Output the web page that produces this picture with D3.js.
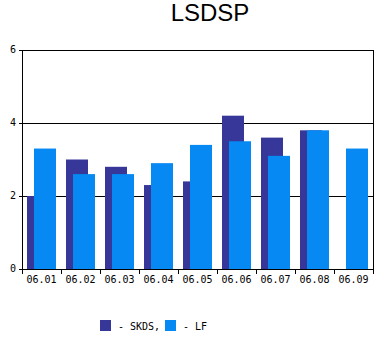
<!DOCTYPE html>
<html>
<head>
  <script src="https://d3js.org/d3.v7.min.js"></script>
  <style>
    body { margin: 0; background: #fff; }
  </style>
</head>
<body>
  <div id="chart"></div>
  <script>
    var categories = ["06.01", "06.02", "06.03", "06.04", "06.05", "06.06", "06.07", "06.08", "06.09"];
    var skds = [2.0, 3.0, 2.8, 2.3, 2.4, 4.2, 3.6, 3.8, 0];
    var lf = [3.3, 2.6, 2.6, 2.9, 3.4, 3.5, 3.1, 3.8, 3.3];
    var yTicks = [0, 2, 4, 6];

    var W = 388, H = 350;
    var margin = {top: 50, right: 15, bottom: 81, left: 22},
        width = W - margin.left - margin.right,
        height = H - margin.top - margin.bottom;

    var svg = d3.select("#chart")
      .append("svg")
      .attr("width", W)
      .attr("height", H);

    svg.append("text")
      .attr("x", 210)
      .attr("y", 21)
      .attr("text-anchor", "middle")
      .style("font-family", "Liberation Sans, Arial, sans-serif")
      .style("font-size", "24px")
      .text("LSDSP");

    var g = svg.append("g")
      .attr("transform", "translate(" + margin.left + "," + margin.top + ")");

    var x = d3.scaleBand()
      .domain(categories)
      .range([0, width]);

    var y = d3.scaleLinear()
      .domain([0, 6])
      .range([height, 0]);

    var bw = x.bandwidth();

    // grid lines
    g.selectAll(".grid")
      .data(yTicks.filter(function(d) { return d > 0; }))
      .enter()
      .append("line")
      .attr("x1", 0)
      .attr("x2", width)
      .attr("y1", function(d) { return Math.round(y(d)) + 0.5; })
      .attr("y2", function(d) { return Math.round(y(d)) + 0.5; })
      .attr("stroke", "#000");

    // dark bars
    g.selectAll(".skds")
      .data(skds)
      .enter()
      .append("rect")
      .attr("x", function(d, i) { return x(categories[i]) + bw * 5 / 39; })
      .attr("y", function(d) { return y(d); })
      .attr("width", bw * 22 / 39)
      .attr("height", function(d) { return height - y(d); })
      .attr("fill", "#37379a");

    // light bars
    g.selectAll(".lf")
      .data(lf)
      .enter()
      .append("rect")
      .attr("x", function(d, i) { return x(categories[i]) + bw * 12 / 39; })
      .attr("y", function(d) { return y(d); })
      .attr("width", bw * 22 / 39)
      .attr("height", function(d) { return height - y(d); })
      .attr("fill", "#0689f2");

    // right border
    g.append("line")
      .attr("x1", width + 0.5).attr("x2", width + 0.5)
      .attr("y1", 0).attr("y2", height + 5)
      .attr("stroke", "#000");

    // x axis with ticks at category boundaries
    var xa = g.append("g")
      .attr("transform", "translate(0," + height + ")");
    xa.append("line")
      .attr("x1", 0).attr("x2", width)
      .attr("y1", 0.5).attr("y2", 0.5)
      .attr("stroke", "#000");
    xa.selectAll(".xt")
      .data(categories)
      .enter()
      .append("line")
      .attr("x1", function(d) { return Math.round(x(d)) + 0.5; })
      .attr("x2", function(d) { return Math.round(x(d)) + 0.5; })
      .attr("y1", 0).attr("y2", 5)
      .attr("stroke", "#000");
    xa.selectAll(".xl")
      .data(categories)
      .enter()
      .append("text")
      .attr("x", function(d) { return x(d) + bw / 2; })
      .attr("y", 14)
      .attr("text-anchor", "middle")
      .style("font-family", "DejaVu Sans Mono, monospace")
      .style("font-size", "10px")
      .text(function(d) { return d; });

    // y axis
    var ya = g.append("g")
      .call(d3.axisLeft(y).tickValues(yTicks).tickFormat(d3.format("d"))
        .tickSize(3).tickSizeOuter(0).tickPadding(3));
    ya.select(".domain").attr("stroke", "#000");
    ya.selectAll("text")
      .style("font-family", "DejaVu Sans Mono, monospace")
      .style("font-size", "10px")
      .attr("dy", "0.2em")
      .attr("fill", "#000");

    // legend
    var legend = [
      {name: "- SKDS,", color: "#37379a", x: 100},
      {name: "- LF", color: "#0689f2", x: 165}
    ];
    var lg = svg.selectAll(".legend")
      .data(legend)
      .enter()
      .append("g");
    lg.append("rect")
      .attr("x", function(d) { return d.x; })
      .attr("y", 320)
      .attr("width", 11)
      .attr("height", 11)
      .attr("fill", function(d) { return d.color; });
    lg.append("text")
      .attr("x", function(d) { return d.x + 18; })
      .attr("y", 330)
      .style("font-family", "DejaVu Sans Mono, monospace")
      .style("font-size", "10px")
      .text(function(d) { return d.name; });
  </script>
</body>
</html>
